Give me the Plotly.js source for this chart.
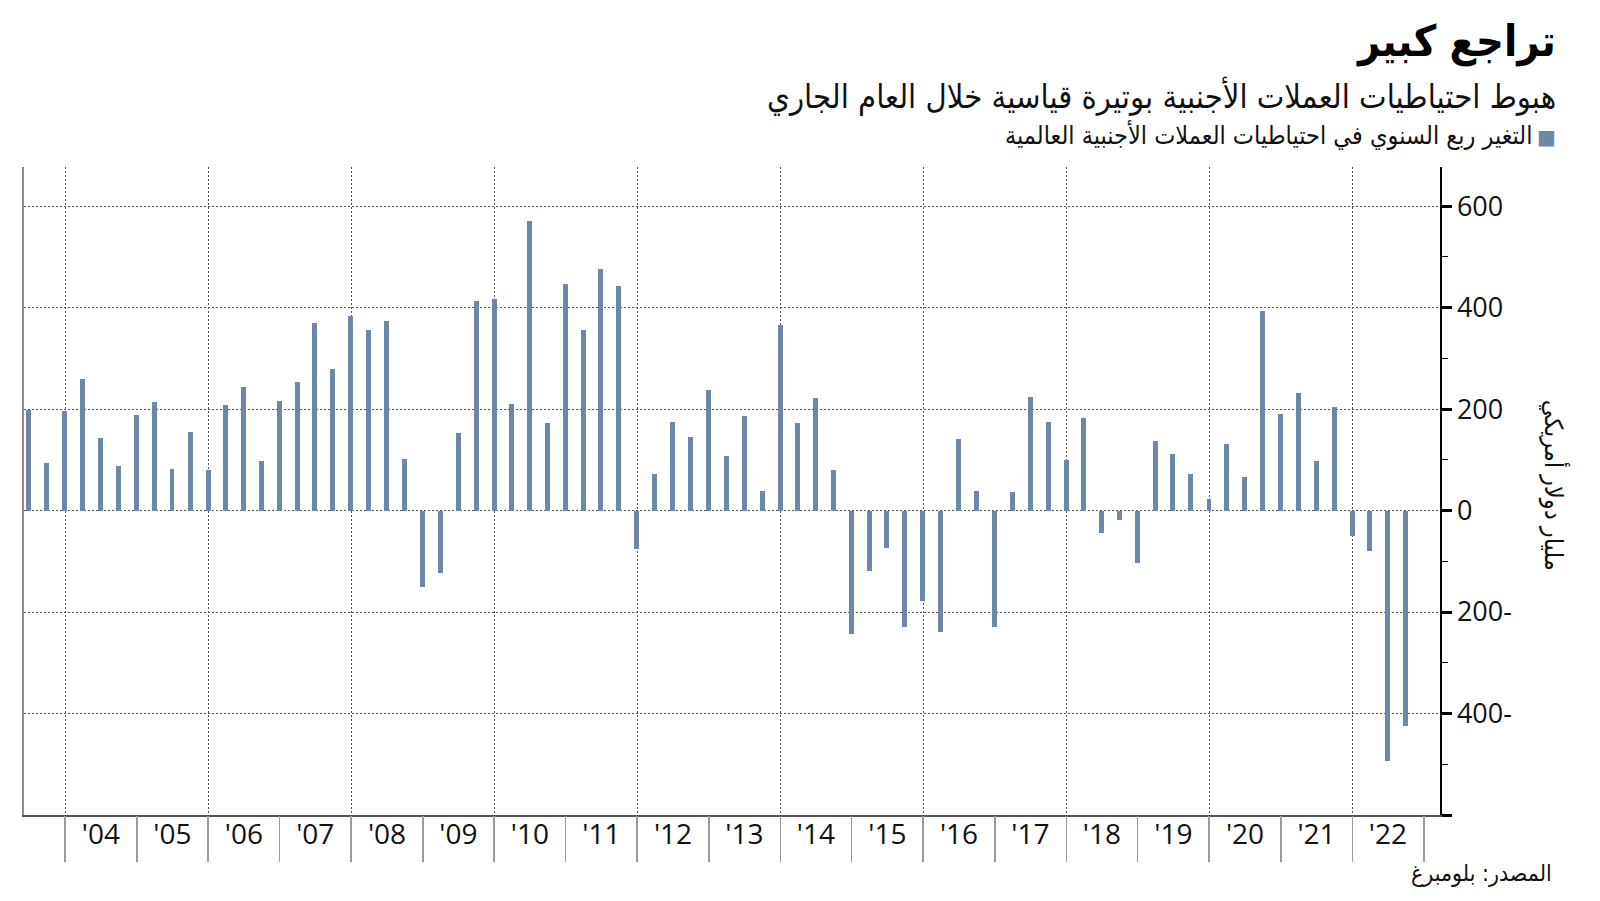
<!DOCTYPE html>
<html>
<head>
<meta charset="utf-8">
<script src="https://cdn.plot.ly/plotly-3.0.1.min.js"></script>
<style>
  html, body { margin: 0; padding: 0; background: #ffffff; }
  #chart { width: 1600px; height: 901px; }
</style>
</head>
<body>
<div id="chart"></div>
<script>
// Quarter-end dates (2003 Q2 – 2022 Q3)
const quarterEnd = [
  '2003-06-30','2003-09-30','2003-12-31',
  '2004-03-31','2004-06-30','2004-09-30','2004-12-31',
  '2005-03-31','2005-06-30','2005-09-30','2005-12-31',
  '2006-03-31','2006-06-30','2006-09-30','2006-12-31',
  '2007-03-31','2007-06-30','2007-09-30','2007-12-31',
  '2008-03-31','2008-06-30','2008-09-30','2008-12-31',
  '2009-03-31','2009-06-30','2009-09-30','2009-12-31',
  '2010-03-31','2010-06-30','2010-09-30','2010-12-31',
  '2011-03-31','2011-06-30','2011-09-30','2011-12-31',
  '2012-03-31','2012-06-30','2012-09-30','2012-12-31',
  '2013-03-31','2013-06-30','2013-09-30','2013-12-31',
  '2014-03-31','2014-06-30','2014-09-30','2014-12-31',
  '2015-03-31','2015-06-30','2015-09-30','2015-12-31',
  '2016-03-31','2016-06-30','2016-09-30','2016-12-31',
  '2017-03-31','2017-06-30','2017-09-30','2017-12-31',
  '2018-03-31','2018-06-30','2018-09-30','2018-12-31',
  '2019-03-31','2019-06-30','2019-09-30','2019-12-31',
  '2020-03-31','2020-06-30','2020-09-30','2020-12-31',
  '2021-03-31','2021-06-30','2021-09-30','2021-12-31',
  '2022-03-31','2022-06-30','2022-09-30'
];

// Year-on-year change in global FX reserves (billion USD)
const reserveChange = [
  199, 94, 196,
  259, 142, 87, 188,
  213, 82, 155, 79,
  208, 244, 97, 216,
  254, 370, 279, 383,
  355, 373, 102, -150,
  -123, 152, 413, 416,
  210, 570, 172, 446,
  355, 476, 443, -76,
  72, 175, 145, 237,
  107, 186, 39, 365,
  172, 221, 79, -244,
  -119, -74, -229, -179,
  -240, 140, 39, -229,
  36, 223, 175, 99,
  183, -45, -18, -104,
  137, 112, 72, 23,
  132, 67, 393, 190,
  231, 97, 205, -51,
  -79, -493, -424
];

// x-axis year labels
const labelYears = ['2004','2005','2006','2007','2008','2009','2010','2011','2012','2013',
                    '2014','2015','2016','2017','2018','2019','2020','2021','2022'];
const yearLabels = ["'04","'05","'06","'07","'08","'09","'10","'11","'12","'13",
                    "'14","'15","'16","'17","'18","'19","'20","'21","'22"];

const yTickVals = [600, 400, 200, 0, -200, -400, -600];
const yTickText = ['600', '400', '200', '0', '200-', '400-', ''];
const yMinorVals = [500, 300, 100, -100, -300, -500];

const titleText = 'تراجع كبير';
const subtitleText = 'هبوط احتياطيات العملات الأجنبية بوتيرة قياسية خلال العام الجاري';
const legendText = 'التغير ربع السنوي في احتياطيات العملات الأجنبية العالمية';
const yTitleText = 'مليار دولار أمريكي';
const sourceText = 'المصدر: بلومبرغ';

const barColor = '#6e87a9';
const arFont = '"DejaVu Sans Condensed", "DejaVu Sans", sans-serif';
const numFont = '"Open Sans", "Noto Sans", sans-serif';

const xRange = ['2003-06-05', '2023-03-25'];
const yRange = [-600, 677];

const labelPositions = labelYears.map(y => y + '-07-02');

const traces = [
  {
    type: 'bar',
    x: quarterEnd,
    y: reserveChange,
    width: 2.2e9,
    marker: { color: barColor, line: { width: 0 } },
    xaxis: 'x', yaxis: 'y',
    showlegend: false,
    hoverinfo: 'x+y'
  },
  { type: 'scatter', mode: 'markers', x: [], y: [], xaxis: 'x2', yaxis: 'y', showlegend: false, hoverinfo: 'skip' },
  { type: 'scatter', mode: 'markers', x: [], y: [], xaxis: 'x3', yaxis: 'y', showlegend: false, hoverinfo: 'skip' },
  { type: 'scatter', mode: 'markers', x: [], y: [], xaxis: 'x', yaxis: 'y2', showlegend: false, hoverinfo: 'skip' }
];

const gridDash = '2px,2px';

const layout = {
  width: 1600,
  height: 901,
  margin: { l: 24, r: 160, t: 167, b: 86 },
  paper_bgcolor: '#ffffff',
  plot_bgcolor: '#ffffff',
  showlegend: false,
  bargap: 0,
  xaxis: {
    type: 'date',
    range: xRange,
    tickmode: 'array',
    tickvals: labelPositions,
    ticktext: yearLabels,
    ticks: '',
    showgrid: false,
    zeroline: false,
    showline: true,
    linecolor: '#555555',
    linewidth: 2,
    tickfont: { family: numFont, size: 28, color: '#111111' },
    ticklabelstandoff: -7
  },
  xaxis2: {
    type: 'date',
    overlaying: 'x',
    matches: 'x',
    anchor: 'y',
    side: 'bottom',
    tick0: '2004-01-01',
    dtick: 'M12',
    ticks: 'outside',
    ticklen: 46,
    tickwidth: 1.5,
    tickcolor: '#9a9a9a',
    showticklabels: false,
    showgrid: false,
    zeroline: false,
    showline: false
  },
  xaxis3: {
    type: 'date',
    overlaying: 'x',
    matches: 'x',
    anchor: 'y',
    side: 'bottom',
    tick0: '2004-01-01',
    dtick: 'M24',
    ticks: '',
    showticklabels: false,
    showgrid: true,
    gridcolor: '#555555',
    gridwidth: 1,
    griddash: gridDash,
    zeroline: false,
    showline: false
  },
  yaxis: {
    side: 'right',
    range: yRange,
    tickvals: yTickVals,
    ticktext: yTickText,
    ticks: 'outside',
    ticklen: 10,
    tickwidth: 3,
    tickcolor: '#000000',
    showline: true,
    linecolor: '#000000',
    linewidth: 1.5,
    showgrid: true,
    gridcolor: '#555555',
    gridwidth: 1,
    griddash: gridDash,
    zeroline: false,
    tickfont: { family: numFont, size: 27, color: '#111111' },
    minor: {
      tickvals: yMinorVals,
      ticks: 'outside',
      ticklen: 6,
      tickwidth: 1,
      tickcolor: '#000000',
      showgrid: false
    }
  },
  yaxis2: {
    overlaying: 'y',
    matches: 'y',
    side: 'left',
    anchor: 'x',
    showline: true,
    linecolor: '#8c8c8c',
    linewidth: 2,
    ticks: '',
    showticklabels: false,
    showgrid: false,
    zeroline: false
  },
  annotations: [
    {
      text: '<b>' + titleText + '</b>',
      xref: 'paper', yref: 'paper',
      x: 1.0833, y: 1.193,
      xanchor: 'right', yanchor: 'middle',
      showarrow: false,
      font: { family: arFont, size: 43, color: '#000000' }
    },
    {
      text: subtitleText,
      xref: 'paper', yref: 'paper',
      x: 1.0833, y: 1.110,
      xanchor: 'right', yanchor: 'middle',
      showarrow: false,
      font: { family: arFont, size: 32.5, color: '#111111' }
    },
    {
      text: '■',
      xref: 'paper', yref: 'paper',
      x: 1.0755, y: 1.047,
      xanchor: 'center', yanchor: 'middle',
      showarrow: false,
      font: { family: '"DejaVu Sans", sans-serif', size: 20, color: barColor }
    },
    {
      text: legendText,
      xref: 'paper', yref: 'paper',
      x: 1.0664, y: 1.050,
      xanchor: 'right', yanchor: 'middle',
      showarrow: false,
      font: { family: arFont, size: 25, color: '#111111' }
    },
    {
      text: yTitleText,
      xref: 'paper', yref: 'paper',
      x: 1.0805, y: 0.508,
      xanchor: 'center', yanchor: 'middle',
      textangle: 90,
      showarrow: false,
      font: { family: arFont, size: 25, color: '#111111' }
    },
    {
      text: sourceText,
      xref: 'paper', yref: 'paper',
      x: 1.0805, y: -0.091,
      xanchor: 'right', yanchor: 'middle',
      showarrow: false,
      font: { family: arFont, size: 23, color: '#111111' }
    }
  ]
};

Plotly.newPlot('chart', traces, layout, { staticPlot: true, displayModeBar: false });
</script>
</body>
</html>
